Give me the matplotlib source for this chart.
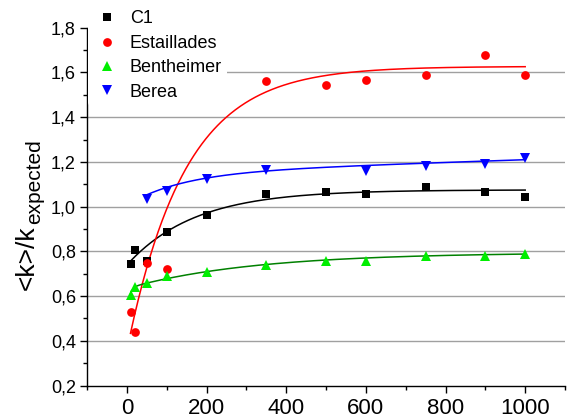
import numpy as np
import matplotlib
matplotlib.use("Agg")
import matplotlib.pyplot as plt
from matplotlib.ticker import MultipleLocator, FuncFormatter

plt.rcParams['font.family'] = ['Liberation Sans', 'DejaVu Sans']

# measured points
c1_x = [10, 20, 50, 100, 200, 350, 500, 600, 750, 900, 1000]
c1_y = [0.743, 0.807, 0.758, 0.887, 0.963, 1.055, 1.064, 1.058, 1.089, 1.064, 1.045]

est_x = [10, 20, 50, 100, 350, 500, 600, 750, 900, 1000]
est_y = [0.53, 0.44, 0.746, 0.721, 1.562, 1.546, 1.566, 1.588, 1.678, 1.587]

ben_x = [10, 20, 50, 100, 200, 350, 500, 600, 750, 900, 1000]
ben_y = [0.603, 0.642, 0.659, 0.688, 0.706, 0.740, 0.759, 0.759, 0.780, 0.780, 0.789]

ber_x = [50, 100, 200, 350, 600, 750, 900, 1000]
ber_y = [1.033, 1.069, 1.125, 1.164, 1.158, 1.181, 1.190, 1.216]

# fit curves: y = A + C*x - B1*exp(-x/t1) - B2*exp(-x/t2)
# (A, C, B1, t1, B2, t2, x_start)
c1_fit = (1.075, 0.0, 0.336, 170.0, 0.0, 1.0, 10)
est_fit = (1.627, 0.0, 1.27, 145.0, 0.0, 1.0, 9)
ben_fit = (0.795, 0.0, 0.16, 320.0, 0.13, 6.0, 8)
ber_fit = (1.15, 6e-5, 0.143, 140.0, 0.0, 1.0, 50)


def fit_curve(p, x_end=1000):
    a, c, b1, t1, b2, t2, x0 = p
    x = np.linspace(x0, x_end, 400)
    return x, a + c * x - b1 * np.exp(-x / t1) - b2 * np.exp(-x / t2)


W, H = 569, 420
fig = plt.figure(figsize=(W / 100, H / 100), dpi=100)
ax = fig.add_axes([0.153, 0.082, 0.840, 0.852])

series = [
    ('C1', c1_x, c1_y, c1_fit, 's', 'black', 'black', 6.0),
    ('Estaillades', est_x, est_y, est_fit, 'o', '#ff0000', '#ff0000', 6.3),
    ('Bentheimer', ben_x, ben_y, ben_fit, '^', '#00ee00', '#008000', 7.0),
    ('Berea', ber_x, ber_y, ber_fit, 'v', '#0000ff', '#0000ff', 7.0),
]

for yv in [0.4, 0.6, 0.8, 1.0, 1.2, 1.4, 1.6]:
    ax.axhline(yv, color='#a0a0a0', lw=1.0, zorder=0)

handles = []
for name, xs, ys, fit, mk, mcol, lcol, ms in series:
    fx, fy = fit_curve(fit)
    ax.plot(fx, fy, color=lcol, lw=1.1, zorder=2)
    h, = ax.plot(xs, ys, mk, color=mcol, ms=ms, mew=0, ls='none', label=name, zorder=3)
    handles.append(h)

ax.set_xlim(-100, 1100)
ax.set_ylim(0.2, 1.8)
ax.xaxis.set_major_locator(MultipleLocator(200))
ax.xaxis.set_minor_locator(MultipleLocator(100))
ax.yaxis.set_major_locator(MultipleLocator(0.2))
ax.yaxis.set_minor_locator(MultipleLocator(0.1))
ax.yaxis.set_major_formatter(FuncFormatter(lambda v, p: f"{v:.1f}".replace('.', ',')))

for s in ['top', 'right']:
    ax.spines[s].set_visible(False)
for s in ['left', 'bottom']:
    ax.spines[s].set_linewidth(1.0)
ax.tick_params(which='major', direction='out', length=5, width=1.0, pad=3)
ax.tick_params(which='minor', direction='out', length=3, width=1.0)
ax.tick_params(axis='x', labelsize=16, pad=4)
ax.tick_params(axis='y', labelsize=13)

# y label: main part plus a lowered subscript, as two rotated texts
fig.canvas.draw()
rend = fig.canvas.get_renderer()
y0 = 290
main = fig.text(34 / W, 1 - y0 / H, '<k>/k', fontsize=19, rotation=90,
                rotation_mode='anchor', ha='left', va='baseline')
ext = main.get_window_extent(rend)
fig.text(40 / W, (ext.y1 + 1) / H, 'expected', fontsize=15, rotation=90,
         rotation_mode='anchor', ha='left', va='baseline')

leg = fig.legend(handles=handles, loc='upper left', bbox_to_anchor=(0.155, 0.988),
                 fontsize=13, frameon=True, facecolor='white', edgecolor='none',
                 framealpha=1.0, handletextpad=0.5, labelspacing=0.41,
                 borderpad=0.3, handlelength=1.5, borderaxespad=0.0)
leg.set_zorder(5)

plt.savefig("out.png", dpi=100)
